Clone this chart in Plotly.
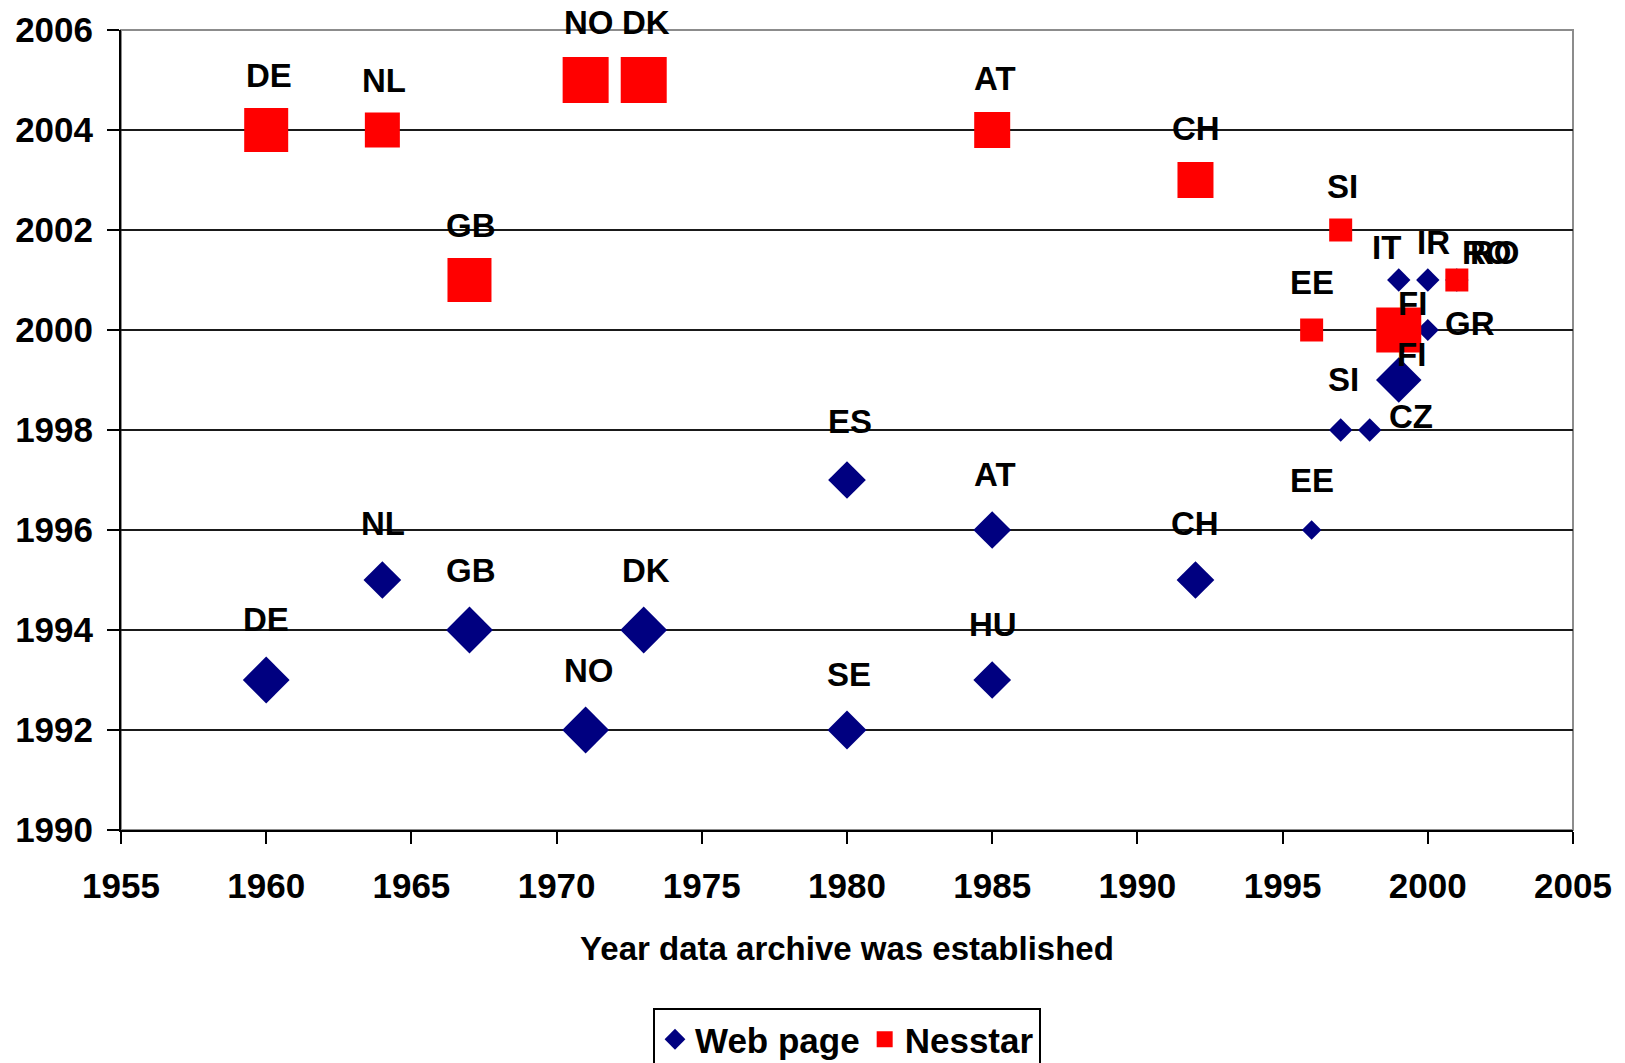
import plotly.graph_objects as go

# ---- data ----
web_labels = ["DE", "NL", "GB", "NO", "DK", "ES", "SE", "AT", "HU", "CH",
              "EE", "SI", "CZ", "FI", "IT", "IR", "GR", "RO"]
web_x = [1960, 1964, 1967, 1971, 1973, 1980, 1980, 1985, 1985, 1992,
         1996, 1997, 1998, 1999, 1999, 2000, 2000, 2001]
web_y = [1993, 1995, 1994, 1992, 1994, 1997, 1992, 1996, 1993, 1995,
         1996, 1998, 1998, 1999, 2001, 2001, 2000, 2001]
web_size = [36, 29, 36, 36, 36, 29, 30, 29, 29, 29,
            15, 18, 18, 35, 18, 18, 17, 18]

nes_labels = ["DE", "NL", "GB", "NO", "DK", "AT", "CH", "SI", "EE", "FI", "RO"]
nes_x = [1960, 1964, 1967, 1971, 1973, 1985, 1992, 1997, 1996, 1999, 2001]
nes_y = [2004, 2004, 2001, 2005, 2005, 2004, 2003, 2002, 2000, 2000, 2001]
nes_size = [44, 35, 44, 46, 46, 36, 36, 23, 23, 45, 23]

x_ticks = [1955, 1960, 1965, 1970, 1975, 1980, 1985, 1990, 1995, 2000, 2005]
y_ticks = [1990, 1992, 1994, 1996, 1998, 2000, 2002, 2004, 2006]

# label offsets in pixels (dx, dy upward) – styling only
web_off = [(0, 61), (1, 57), (2, 60), (3, 60), (2, 60), (3, 59), (2, 56), (3, 56),
           (1, 56), (0, 57), (0, 50), (3, 51), (41, 14), (13, 26), (-12, 33),
           (6, 38), (42, 7), (38, 28)]
nes_off = [(3, 55), (2, 50), (2, 55), (3, 58), (2, 58), (3, 52), (1, 52),
           (2, 44), (0, 48), (14, 27), (30, 28)]

FONT = "Liberation Sans, Arial, sans-serif"
NAVY = "#000080"
RED = "#FF0000"
LABEL_FONT = dict(family=FONT, size=33, color="black", weight="bold")

fig = go.Figure()
fig.add_trace(go.Scatter(
    x=web_x, y=web_y, mode="markers", name="Web page",
    marker=dict(symbol="diamond", color=NAVY, size=web_size, opacity=1,
                line=dict(width=0)),
    cliponaxis=False,
))
fig.add_trace(go.Scatter(
    x=nes_x, y=nes_y, mode="markers", name="Nesstar",
    marker=dict(symbol="square", color=RED, size=nes_size, opacity=1,
                line=dict(width=0)),
    cliponaxis=False,
))

annotations = []
for lab, x, y, (dx, dy) in zip(web_labels, web_x, web_y, web_off):
    annotations.append(dict(x=x, y=y, text=lab, showarrow=False, xshift=dx, yshift=dy,
                            font=LABEL_FONT))
for lab, x, y, (dx, dy) in zip(nes_labels, nes_x, nes_y, nes_off):
    annotations.append(dict(x=x, y=y, text=lab, showarrow=False, xshift=dx, yshift=dy,
                            font=LABEL_FONT))

# page body has an 8px margin, so the figure is sized 8px smaller each way
fig.update_layout(
    width=1617, height=1055,
    margin=dict(l=113, r=52, t=22, b=233, autoexpand=False),
    paper_bgcolor="white", plot_bgcolor="white",
    font=dict(family=FONT, size=33, color="black", weight="bold"),
    annotations=annotations,
    showlegend=True,
    legend=dict(orientation="h", x=0.5, xanchor="center", y=-0.2225, yanchor="top",
                bordercolor="black", borderwidth=2, bgcolor="white",
                font=dict(family=FONT, size=35, color="black", weight="bold")),
    shapes=[dict(type="rect", xref="paper", yref="paper", x0=0, x1=1, y0=0, y1=1,
                 line=dict(color="#8c8c8c", width=2), layer="below")],
)
fig.update_xaxes(
    range=[1955, 2005], tickvals=x_ticks, ticktext=[str(v) for v in x_ticks],
    ticks="outside", ticklen=12, tickwidth=2, tickcolor="black",
    showline=True, linecolor="black", linewidth=2,
    showgrid=False, zeroline=False, ticklabelstandoff=12,
    tickfont=dict(family=FONT, size=35, color="black", weight="bold"),
    title=dict(text="Year data archive was established", standoff=33,
               font=dict(family=FONT, size=33, color="black", weight="bold")),
)
fig.update_yaxes(
    range=[1990, 2006], tickvals=y_ticks, ticktext=[str(v) for v in y_ticks],
    ticks="outside", ticklen=12, tickwidth=2, tickcolor="black",
    showline=True, linecolor="black", linewidth=2,
    showgrid=True, gridcolor="#1a1a1a", gridwidth=2, zeroline=False,
    ticklabelstandoff=7,
    tickfont=dict(family=FONT, size=35, color="black", weight="bold"),
)

fig.write_html("out.html")
